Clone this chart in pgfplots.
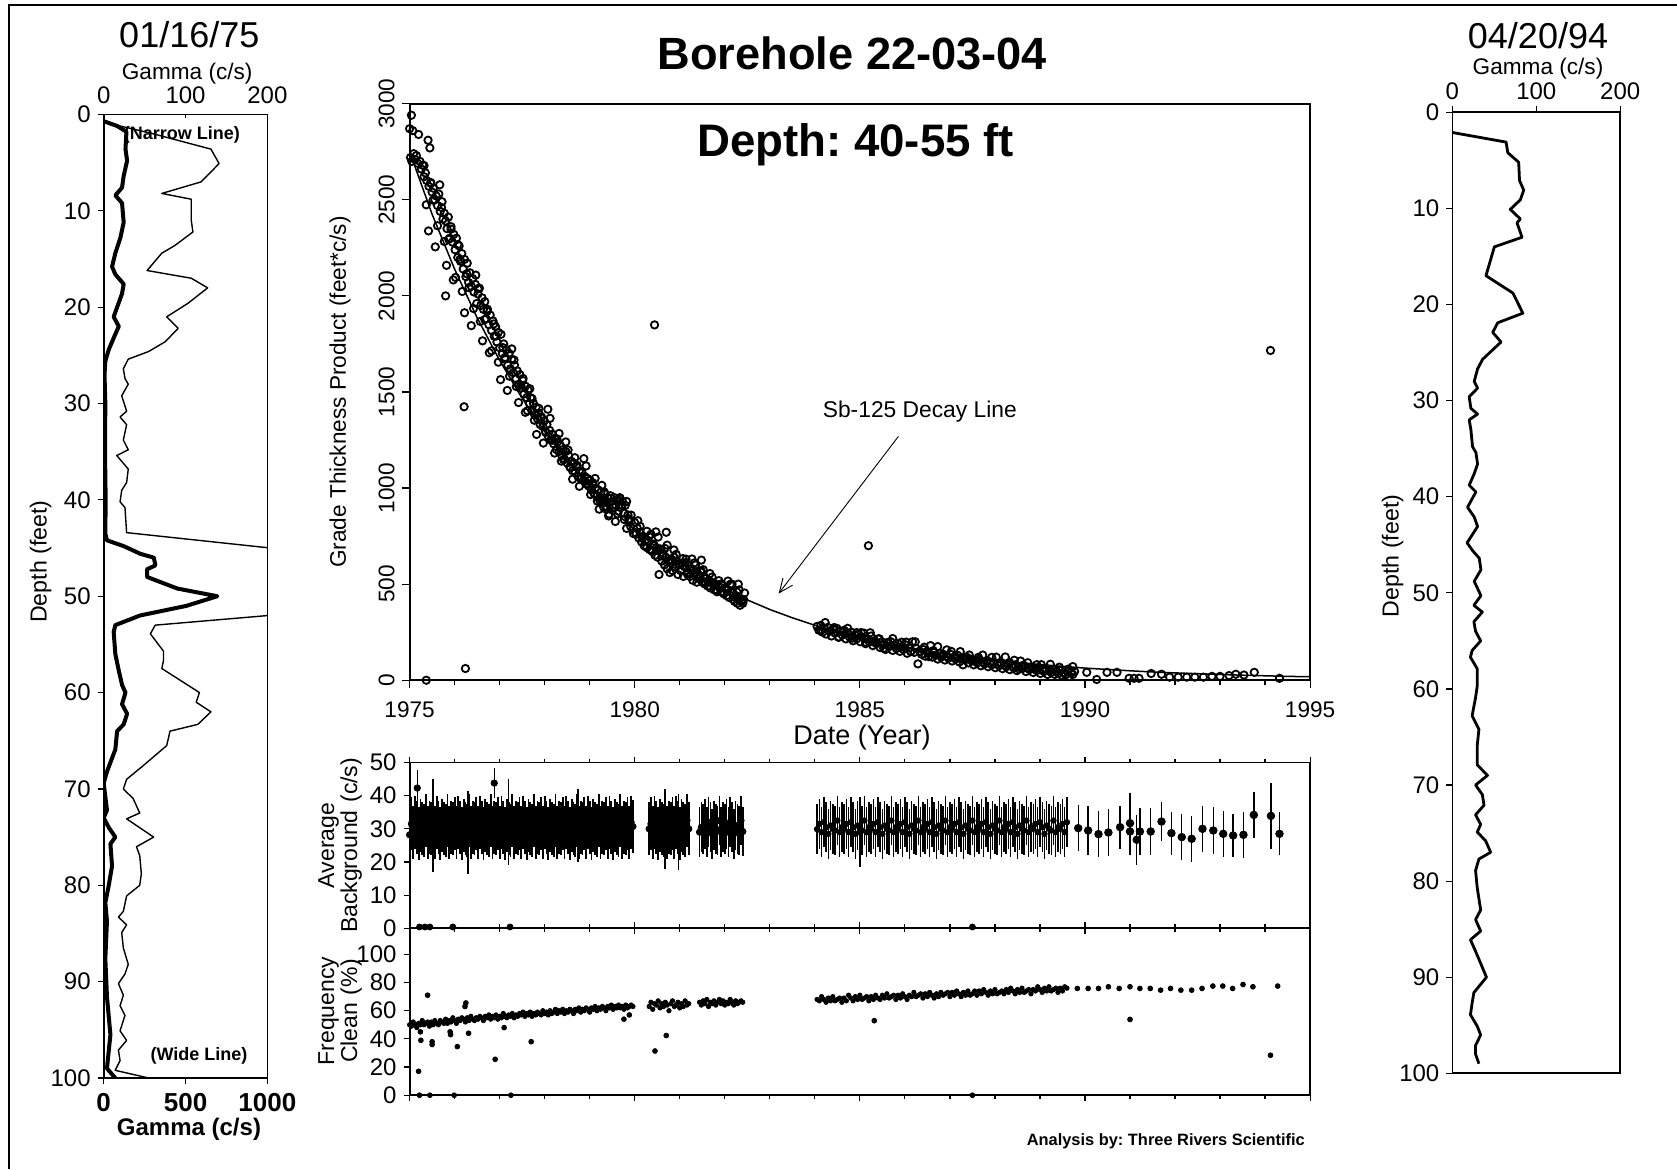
\documentclass[border=0pt]{standalone}
\usepackage{pgfplots}
\pgfplotsset{compat=1.18}
\usepackage{pgfplotstable}
\usetikzlibrary{arrows.meta}
\usepackage{fontspec}
\setmainfont{Liberation Sans}
\frenchspacing
\pgfplotsset{/pgf/number format/1000 sep={}, /pgf/number format/assume math mode=true}
\newcommand\fs[1]{\fontsize{#1}{#1}\selectfont}
\pgfplotsset{myax/.style={scale only axis, anchor=north west, axis line style={line width=0.9pt}, tick style={line width=0.6pt, black}, clip mode=individual, scaled ticks=false}}

\pgfplotstableread[row sep=\\]{
x bg fc\\
1975.00 28.2 50\\ 1975.04 31.5 49\\ 1975.08 29 52\\ 1975.12 32 50\\ 1975.16 30.5 48\\ 1975.20 28.5 51\\
1975.24 31 50\\ 1975.28 30 53\\ 1975.32 29.5 50\\ 1975.36 32.5 51\\ 1975.40 29 52\\ 1975.44 30.5 49\\
1975.48 30 52\\ 1975.52 31.5 50\\ 1975.56 29 53\\ 1975.60 32 51\\ 1975.64 30.5 50\\ 1975.68 28.5 53\\
1975.72 31 52\\ 1975.76 30 51\\ 1975.80 29.5 54\\ 1975.84 32.5 51\\ 1975.88 29 53\\ 1975.92 30.5 52\\
1975.96 30 55\\ 1976.00 31.5 53\\ 1976.04 29 51\\ 1976.08 32 54\\ 1976.12 30.5 53\\ 1976.16 28.5 55\\
1976.20 31 54\\ 1976.24 30 52\\ 1976.28 29.5 55\\ 1976.32 32.5 53\\ 1976.36 29 56\\ 1976.40 30.5 54\\
1976.44 30 53\\ 1976.48 31.5 55\\ 1976.52 29 54\\ 1976.56 32 56\\ 1976.60 30.5 55\\ 1976.64 28.5 53\\
1976.68 31 56\\ 1976.72 30 55\\ 1976.76 29.5 57\\ 1976.80 32.5 54\\ 1976.84 29 56\\ 1976.88 30.5 55\\
1976.92 30 57\\ 1976.96 31.5 54\\ 1977.00 29 56\\ 1977.04 32 55\\ 1977.08 30.5 58\\ 1977.12 28.5 56\\
1977.16 31 55\\ 1977.20 30 57\\ 1977.24 29.5 56\\ 1977.28 32.5 58\\ 1977.32 29 55\\ 1977.36 30.5 57\\
1977.40 30 56\\ 1977.44 31.5 58\\ 1977.48 29 57\\ 1977.52 32 59\\ 1977.56 30.5 56\\ 1977.60 28.5 58\\
1977.64 31 57\\ 1977.68 30 59\\ 1977.72 29.5 56\\ 1977.76 32.5 58\\ 1977.80 29 57\\ 1977.84 30.5 59\\
1977.88 30 58\\ 1977.92 31.5 57\\ 1977.96 29 60\\ 1978.00 32 58\\ 1978.04 30.5 59\\ 1978.08 28.5 57\\
1978.12 31 60\\ 1978.16 30 58\\ 1978.20 29.5 59\\ 1978.24 32.5 61\\ 1978.28 29 58\\ 1978.32 30.5 60\\
1978.36 30 59\\ 1978.40 31.5 61\\ 1978.44 29 58\\ 1978.48 32 60\\ 1978.52 30.5 59\\ 1978.56 28.5 61\\
1978.60 31 60\\ 1978.64 30 58\\ 1978.68 29.5 61\\ 1978.72 32.5 60\\ 1978.76 29 62\\ 1978.80 30.5 59\\
1978.84 30 61\\ 1978.88 31.5 60\\ 1978.92 29 62\\ 1978.96 32 61\\ 1979.00 30.5 59\\ 1979.04 28.5 62\\
1979.08 31 61\\ 1979.12 30 63\\ 1979.16 29.5 60\\ 1979.20 32.5 62\\ 1979.24 29 61\\ 1979.28 30.5 63\\
1979.32 30 62\\ 1979.36 31.5 60\\ 1979.40 29 63\\ 1979.44 32 62\\ 1979.48 30.5 64\\ 1979.52 28.5 61\\
1979.56 31 63\\ 1979.60 30 62\\ 1979.64 29.5 64\\ 1979.68 32.5 62\\ 1979.72 29 63\\ 1979.76 30.5 61\\
1979.80 30 64\\ 1979.84 31.5 62\\ 1979.88 29 63\\ 1979.92 32 64\\ 1979.96 30.7 63\\
}\segA

\pgfplotstableread[row sep=\\]{
x bg fc\\
1980.32 30 63\\ 1980.36 31.5 66\\ 1980.40 29 61\\ 1980.44 32 65\\ 1980.48 30.5 64\\ 1980.52 28.5 67\\
1980.56 31 62\\ 1980.60 30 65\\ 1980.64 29.5 63\\ 1980.68 32.5 66\\ 1980.72 29 64\\ 1980.76 30.5 60\\
1980.80 30 65\\ 1980.84 31.5 67\\ 1980.88 29 63\\ 1980.92 32 64\\ 1980.96 30.5 66\\ 1981.00 28.5 62\\
1981.04 31 65\\ 1981.08 30 63\\ 1981.12 29.5 67\\ 1981.16 32.5 64\\ 1981.20 30 65\\
}\segB

\pgfplotstableread[row sep=\\]{
x bg fc\\
1981.44 29 66\\ 1981.48 30.5 64\\ 1981.52 30 67\\ 1981.56 31.5 65\\ 1981.60 29 68\\ 1981.64 32 63\\
1981.68 30.5 66\\ 1981.72 28.5 65\\ 1981.76 31 67\\ 1981.80 30 64\\ 1981.84 29.5 66\\ 1981.88 32.5 68\\
1981.92 29 65\\ 1981.96 30.5 67\\ 1982.00 30 64\\ 1982.04 31.5 66\\ 1982.08 29 65\\ 1982.12 32 68\\
1982.16 30.5 66\\ 1982.20 28.5 64\\ 1982.24 31 67\\ 1982.28 30 65\\ 1982.32 29.5 66\\ 1982.36 32.5 67\\
1982.40 29.2 66\\
}\segC

\pgfplotstableread[row sep=\\]{
x bg fc\\
1984.05 29.9 68\\ 1984.10 31.5 67\\ 1984.15 29 70\\ 1984.20 32 68\\ 1984.25 30.5 66\\ 1984.30 28.5 69\\
1984.35 31 67\\ 1984.40 30 70\\ 1984.45 29.5 67\\ 1984.50 32.5 68\\ 1984.55 29 69\\ 1984.60 30.5 66\\
1984.65 30 69\\ 1984.70 31.5 67\\ 1984.75 29 71\\ 1984.80 32 69\\ 1984.85 30.5 67\\ 1984.90 28.5 70\\
1984.95 31 68\\ 1985.00 30 71\\ 1985.05 29.5 68\\ 1985.10 32.5 69\\ 1985.15 29 70\\ 1985.20 30.5 67\\
1985.25 30 70\\ 1985.30 31.5 68\\ 1985.35 29 71\\ 1985.40 32 69\\ 1985.45 30.5 68\\ 1985.50 28.5 71\\
1985.55 31 69\\ 1985.60 30 72\\ 1985.65 29.5 69\\ 1985.70 32.5 70\\ 1985.75 29 71\\ 1985.80 30.5 68\\
1985.85 30 71\\ 1985.90 31.5 69\\ 1985.95 29 72\\ 1986.00 32 70\\ 1986.05 30.5 68\\ 1986.10 28.5 71\\
1986.15 31 70\\ 1986.20 30 73\\ 1986.25 29.5 70\\ 1986.30 32.5 71\\ 1986.35 29 72\\ 1986.40 30.5 69\\
1986.45 30 72\\ 1986.50 31.5 70\\ 1986.55 29 73\\ 1986.60 32 71\\ 1986.65 30.5 69\\ 1986.70 28.5 72\\
1986.75 31 70\\ 1986.80 30 73\\ 1986.85 29.5 71\\ 1986.90 32.5 72\\ 1986.95 29 73\\ 1987.00 30.5 70\\
1987.05 30 73\\ 1987.10 31.5 71\\ 1987.15 29 74\\ 1987.20 32 72\\ 1987.25 30.5 70\\ 1987.30 28.5 73\\
1987.35 31 71\\ 1987.40 30 74\\ 1987.45 29.5 71\\ 1987.50 32.5 72\\ 1987.55 29 74\\ 1987.60 30.5 71\\
1987.65 30 74\\ 1987.70 31.5 72\\ 1987.75 29 75\\ 1987.80 32 73\\ 1987.85 30.5 71\\ 1987.90 28.5 74\\
1987.95 31 72\\ 1988.00 30 75\\ 1988.05 29.5 72\\ 1988.10 32.5 73\\ 1988.15 29 74\\ 1988.20 30.5 72\\
1988.25 30 75\\ 1988.30 31.5 73\\ 1988.35 29 76\\ 1988.40 32 74\\ 1988.45 30.5 72\\ 1988.50 28.5 75\\
1988.55 31 73\\ 1988.60 30 76\\ 1988.65 29.5 73\\ 1988.70 32.5 74\\ 1988.75 29 75\\ 1988.80 30.5 72\\
1988.85 30 75\\ 1988.90 31.5 74\\ 1988.95 29 77\\ 1989.00 32 75\\ 1989.05 30.5 73\\ 1989.10 28.5 76\\
1989.15 31 74\\ 1989.20 30 77\\ 1989.25 29.5 74\\ 1989.30 32.5 75\\ 1989.35 29 76\\ 1989.40 30.5 73\\
1989.45 30 76\\ 1989.50 31.5 74\\ 1989.55 29 77\\ 1989.60 32 76\\
}\segD

\begin{document}
\begin{tikzpicture}
\path[use as bounding box] (0pt,0pt) rectangle (838.5pt,-584.5pt);
\draw[line width=1pt] (4.3pt,-584.5pt) -- (4.3pt,-2.65pt) -- (838.5pt,-2.65pt);

% ================= LEFT LOG =================
\begin{axis}[myax, at={(51.85pt,-57.2pt)}, width=81.85pt, height=481.8pt,
  xmin=0, xmax=1000, ymin=0, ymax=100, y dir=reverse,
  xtick={0,500,1000}, ytick={0,10,...,100}, xtick pos=left, ytick pos=left,
  tick align=outside, major tick length=3pt,
  xticklabel style={font=\bfseries\fs{13}}, xticklabel shift=1.2pt,
  yticklabel style={font=\fs{12}}]
\addplot[line width=2pt, line join=round] coordinates {
(0,0.7) (82,1.2) (139,1.8) (133,3.6) (143,4.8) (122,6.4) (112,7.6) (71,8.4) (112,9.2) (122,11.2)
(102,12.8) (71,14.4) (51,15.8) (71,16.6) (122,17.6) (112,18.6) (82,20) (61,21) (92,22) (61,23.2)
(31,24.4) (10,25.6) (5,27) (10,30) (8,35) (12,40) (10,43.5) (20,44.2) (122,44.8) (224,45.6)
(306,46) (316,46.8) (265,47.2) (265,48) (449,49.2) (694,50) (505,51) (222,52) (71,53) (61,53.7)
(71,56) (92,57.7) (112,59.2) (133,60) (112,61.2) (143,62.2) (122,63.3) (82,64) (71,65.9) (20,68.2)
(0,69.4) (20,72.2) (0,73) (31,74) (71,75) (41,75.7) (51,78) (31,80) (10,81.8) (20,83.7)
(10,87.6) (20,91.6) (41,95.5) (20,99) (71,100)};
\end{axis}
\begin{axis}[myax, at={(51.85pt,-57.2pt)}, width=81.85pt, height=481.8pt,
  xmin=0, xmax=200, ymin=0, ymax=100, y dir=reverse,
  axis x line*=top, axis y line=none, xtick={0,100,200},
  tick align=inside, major tick length=2pt,
  xticklabel style={font=\fs{12}}, xticklabel shift=1.6pt]
\addplot[line width=0.7pt, line join=round] coordinates {
(0,0.8) (60,2.0) (131,3.6) (141,5.1) (119,7.0) (71,8.2) (107,8.8) (107,11) (109,12.2) (87,13.6)
(71,14.4) (53,16.2) (107,17) (127,18) (103,19.6) (77,21) (91,22.2) (75,23.6) (55,24.6) (30,25.4)
(24,26.4) (26,27.4) (30,28) (22,29.2) (28,30.8) (20,31.4) (28,32.2) (24,33.8) (30,34.8) (16,35.4)
(22,36) (30,36.8) (28,38.2) (22,39) (20,40.2) (26,40.8) (28,43.4) (215,45.1) (400,48.5) (215,51.9)
(63,53) (57,53.9) (73,55.7) (73,56.7) (71,57.5) (117,60) (113,61) (131,62) (115,63.3) (81,64)
(77,65.5) (48,67.6) (28,69) (24,70) (36,71) (44,72.5) (28,73.1) (61,75) (40,76) (44,76.9)
(46,78.8) (44,80) (28,81.1) (24,82.7) (18,83.3) (28,84.1) (22,84.9) (24,86.5) (30,88.2) (26,89.2)
(18,90.2) (24,91.4) (20,92.5) (26,93.5) (20,95.1) (28,96.1) (18,97.1) (20,98.2) (14,99.2) (55,100)};
\end{axis}
\node[font=\fs{18}] at (94.65pt,-17.2pt) {01/16/75};
\node[font=\fs{11.3}] at (93.6pt,-36.8pt) {Gamma (c/s)};
\node[font=\fs{11.6}, rotate=90] at (20.3pt,-280.75pt) {Depth (feet)};
\node[font=\bfseries\fs{12}] at (94.5pt,-564.5pt) {Gamma (c/s)};
\node[font=\bfseries\fs{9}] at (90.9pt,-67.4pt) {(Narrow Line)};
\node[font=\bfseries\fs{9}] at (99.5pt,-527.8pt) {(Wide Line)};

% ================= CENTER TOP =================
\begin{axis}[myax, at={(204.8pt,-51.85pt)}, width=450.25pt, height=288.25pt,
  xmin=1975, xmax=1995, ymin=0, ymax=3000,
  xtick={1975,1980,...,1995}, minor x tick num=4,
  ytick={0,500,...,3000}, xtick pos=left, ytick pos=left,
  tick align=outside, major tick length=4pt, minor tick length=2.5pt,
  xticklabel style={font=\fs{11.3}}, xticklabel shift=3pt,
  yticklabel style={font=\fs{11.3}, rotate=90, anchor=south}]
\addplot[line width=0.75pt] coordinates {
(1975.0,2750) (1975.5,2425) (1976.0,2139) (1976.5,1886) (1977.0,1664) (1977.5,1467) (1978.0,1294)
(1978.5,1141) (1979.0,1006) (1979.5,887) (1980.0,783) (1980.5,690) (1981.0,609) (1981.5,537)
(1982.0,473) (1982.5,418) (1983.0,368) (1983.5,325) (1984.0,286) (1984.5,253) (1985.0,223)
(1985.5,196) (1986.0,173) (1986.5,153) (1987.0,135) (1987.5,119) (1988.0,105) (1988.5,92)
(1989.0,82) (1989.5,72) (1990.0,63) (1990.5,56) (1991.0,49) (1991.5,43) (1992.0,38) (1992.5,34)
(1993.0,30) (1993.5,26) (1994.0,23) (1994.5,20) (1995.0,18)};
\addplot[only marks, mark=o, mark size=1.85pt, mark options={line width=0.9pt}] coordinates {
(1975.00,2870) (1975.02,2720) (1975.04,2940) (1975.05,2700) (1975.07,2860) (1975.09,2740) (1975.12,2710)
(1975.15,2730) (1975.18,2690) (1975.20,2840) (1975.23,2700) (1975.26,2660) (1975.29,2680) (1975.32,2620)
(1975.35,2640) (1975.38,2600) (1975.41,2810) (1975.43,2570) (1975.45,2770) (1975.47,2590) (1975.50,2540)
(1975.53,2560) (1975.56,2500) (1975.59,2520) (1975.62,2470) (1975.65,2530) (1975.68,2440) (1975.71,2460)
(1975.74,2400) (1975.77,2430) (1975.80,2390) (1975.83,2350) (1975.86,2410) (1975.89,2300) (1975.92,2360)
(1975.95,2280) (1975.98,2320) (1976.01,2240) (1976.04,2300) (1976.07,2200) (1976.10,2260) (1976.13,2180)
(1976.16,2220) (1976.19,2140) (1976.22,2190) (1976.25,2100) (1976.28,2170) (1976.31,2070) (1976.34,2120)
(1976.37,2050) (1976.40,2090) (1976.43,2020) (1976.46,2060) (1976.49,1960) (1976.52,2010) (1976.55,2040)
(1976.58,1950) (1976.61,1990) (1976.64,1930) (1976.67,1970) (1976.70,1880) (1976.73,1930) (1976.76,1850)
(1976.79,1900) (1976.82,1820) (1976.85,1870) (1976.88,1790) (1976.91,1840) (1976.94,1760) (1976.97,1810)
(1977.00,1730) (1977.03,1800) (1977.06,1700) (1977.09,1750) (1977.12,1680) (1977.15,1720) (1977.18,1640)
(1977.21,1700) (1977.24,1620) (1977.27,1670) (1977.30,1600) (1977.33,1640) (1977.36,1570) (1977.39,1610)
(1977.42,1540) (1977.45,1590) (1977.48,1520) (1977.51,1560) (1977.54,1490) (1977.57,1530) (1977.60,1470)
(1977.63,1510) (1977.66,1440) (1977.69,1470) (1977.72,1400) (1977.75,1440) (1977.78,1380) (1977.81,1420)
(1977.84,1360) (1977.87,1390) (1977.90,1330) (1977.93,1370) (1977.96,1320) (1977.99,1350) (1978.02,1290)
(1978.05,1330) (1978.08,1270) (1978.11,1300) (1978.14,1250) (1978.17,1280) (1978.20,1230) (1978.23,1260)
(1978.26,1200) (1978.29,1240) (1978.32,1190) (1978.35,1220) (1978.38,1170) (1978.41,1200) (1978.44,1150)
(1978.47,1190) (1978.50,1130) (1978.53,1170) (1978.56,1110) (1978.59,1140) (1978.62,1090) (1978.65,1130)
(1978.68,1080) (1978.71,1110) (1978.74,1060) (1978.77,1090) (1978.80,1050) (1978.83,1080) (1978.86,1040)
(1978.89,1060) (1978.92,1020) (1978.95,1050) (1978.98,1010) (1979.01,1040) (1979.04,990) (1979.07,1020)
(1979.10,970) (1979.13,1000) (1979.16,960) (1979.19,990) (1979.21,890) (1979.22,950) (1979.25,980)
(1979.28,940) (1979.31,900) (1979.34,970) (1979.37,890) (1979.40,950) (1979.43,865) (1979.46,960)
(1979.49,930) (1979.52,900) (1979.55,950) (1979.58,910) (1979.61,940) (1979.64,880) (1979.67,950)
(1979.70,900) (1979.73,930) (1979.76,870) (1979.79,910) (1979.82,930) (1979.85,860) (1979.88,830)
(1979.91,800) (1980.00,820) (1980.03,760) (1980.06,790) (1980.09,740) (1980.12,770) (1980.15,720)
(1980.18,750) (1980.21,700) (1980.24,730) (1980.27,690) (1980.30,720) (1980.33,680) (1980.36,760)
(1980.39,670) (1980.42,700) (1980.45,650) (1980.48,690) (1980.51,640) (1980.54,550) (1980.57,680)
(1980.60,620) (1980.63,660) (1980.66,600) (1980.69,640) (1980.70,770) (1980.72,580) (1980.75,620)
(1980.78,560) (1980.81,610) (1980.84,570) (1980.87,640) (1980.90,590) (1980.93,620) (1980.96,550)
(1980.99,600) (1981.02,570) (1981.05,610) (1981.08,540) (1981.11,590) (1981.14,630) (1981.17,560)
(1981.20,600) (1981.23,540) (1981.26,580) (1981.29,520) (1981.32,560) (1981.35,600) (1981.38,510)
(1981.41,550) (1981.44,530) (1981.47,570) (1981.48,625) (1981.50,510) (1981.53,540) (1981.56,500)
(1981.59,530) (1981.62,490) (1981.65,520) (1981.68,480) (1981.71,510) (1981.74,500) (1981.77,470)
(1981.80,500) (1981.83,460) (1981.86,490) (1981.89,480) (1981.92,500) (1981.95,460) (1981.98,450)
(1982.01,480) (1982.04,440) (1982.07,470) (1982.10,430) (1982.13,460) (1982.16,500) (1982.19,420)
(1982.22,410) (1982.25,440) (1982.28,400) (1982.30,500) (1982.31,420) (1982.34,390) (1982.37,410)
(1982.40,400)
(1975.32,2678) (1975.37,2474) (1975.42,2338) (1975.47,2586) (1975.52,2498) (1975.57,2255) (1975.62,2365)
(1975.67,2578) (1975.72,2490) (1975.77,2283) (1975.82,2159) (1975.87,2294) (1975.92,2347) (1975.97,2083)
(1976.02,2096) (1976.07,2267) (1976.12,2190) (1976.17,2023) (1976.22,1912) (1976.27,2115) (1976.32,2043)
(1976.37,1845) (1976.42,1934) (1976.47,2108) (1976.52,2037) (1976.57,1867) (1976.62,1766) (1976.67,1877)
(1976.72,1920) (1976.77,1704) (1976.82,1714) (1976.87,1854) (1976.92,1791) (1976.97,1655) (1977.02,1564)
(1977.07,1731) (1977.12,1671) (1977.17,1508) (1977.22,1582) (1977.27,1724) (1977.32,1666) (1977.37,1528)
(1977.42,1445) (1977.47,1535) (1977.52,1570) (1977.57,1394) (1977.62,1402) (1977.67,1517) (1977.72,1465)
(1977.77,1353) (1977.82,1279) (1977.87,1415) (1977.92,1367) (1977.97,1234) (1978.02,1294) (1978.07,1410)
(1978.12,1363) (1978.17,1249) (1978.22,1182) (1978.27,1256) (1978.32,1284) (1978.37,1140) (1978.42,1147)
(1978.47,1240) (1978.52,1198) (1978.57,1107) (1978.62,1046) (1978.67,1158) (1978.72,1118) (1978.77,1009)
(1978.82,1058) (1978.87,1153) (1978.92,1115) (1978.97,1022) (1979.02,966) (1979.07,1027) (1979.12,1050)
(1979.17,932) (1979.22,938) (1979.27,1014) (1979.32,980) (1979.37,905) (1979.42,855) (1979.47,947)
(1979.52,914) (1979.57,826) (1979.62,866) (1979.67,944) (1979.72,912) (1979.77,836) (1979.82,790)
(1979.87,840) (1979.92,859) (1979.97,763) (1980.02,767) (1980.07,830) (1980.12,801) (1980.17,740)
(1980.22,700) (1980.27,775) (1980.32,748) (1980.37,675) (1980.42,708) (1980.47,772) (1980.52,745)
(1980.57,683) (1980.62,646) (1980.67,686) (1980.72,703) (1980.77,624) (1980.82,627) (1980.87,678)
(1980.92,655) (1980.97,605) (1981.02,572) (1981.07,633) (1981.12,612) (1981.17,552) (1981.22,579)
(1981.27,631) (1981.32,610) (1981.37,559) (1981.42,529) (1981.47,562) (1981.52,575) (1981.57,510)
(1981.62,514) (1981.67,555) (1981.72,537) (1981.77,496) (1981.82,468) (1981.87,518) (1981.92,501)
(1981.97,452) (1982.02,474) (1982.07,516) (1982.12,499) (1982.17,457) (1982.22,432) (1982.27,459)
(1982.32,470) (1982.37,417) (1982.42,419) (1982.44,454)
(1984.05,280) (1984.09,260) (1984.13,285) (1984.17,250) (1984.21,270) (1984.25,240) (1984.29,275)
(1984.33,255) (1984.37,230) (1984.41,265) (1984.45,245) (1984.49,270) (1984.53,225) (1984.57,255)
(1984.61,235) (1984.65,260) (1984.69,215) (1984.73,245) (1984.77,225) (1984.81,250) (1984.85,205)
(1984.89,235) (1984.93,215) (1984.97,240) (1985.01,200) (1985.05,225) (1985.09,245) (1985.13,190)
(1985.17,215) (1985.21,200) (1985.25,230) (1985.29,180) (1985.33,205) (1985.37,190) (1985.41,215)
(1985.45,170) (1985.49,200) (1985.53,185) (1985.57,160) (1985.61,195) (1985.65,175) (1985.69,200)
(1985.73,155) (1985.77,180) (1985.81,165) (1985.85,190) (1985.89,150) (1985.93,175) (1985.97,160)
(1986.01,185) (1986.05,140) (1986.09,170) (1986.13,150) (1986.17,200) (1986.21,145) (1986.25,165)
(1986.29,85) (1986.33,150) (1986.37,135) (1986.41,160) (1986.45,125) (1986.49,150) (1986.53,140)
(1986.57,180) (1986.61,120) (1986.65,145) (1986.69,130) (1986.73,110) (1986.77,140) (1986.81,120)
(1986.85,135) (1986.89,105) (1986.93,125) (1986.97,115) (1987.01,135) (1987.05,100) (1987.09,120)
(1987.13,110) (1987.17,130) (1987.21,95) (1987.25,115) (1987.29,80) (1987.33,105) (1987.37,120)
(1987.41,90) (1987.45,110) (1987.49,100) (1987.53,80) (1987.57,105) (1987.61,90) (1987.65,110)
(1987.69,75) (1987.73,95) (1987.77,85) (1987.81,100) (1987.85,70) (1987.89,90) (1987.93,80)
(1987.97,95) (1988.01,65) (1988.05,85) (1988.09,75) (1988.13,90) (1988.17,60) (1988.21,80)
(1988.25,70) (1988.29,85) (1988.33,55) (1988.37,75) (1988.41,65) (1988.45,80) (1988.49,50)
(1988.53,70) (1988.57,100) (1988.61,60) (1988.65,75) (1988.69,45) (1988.73,65) (1988.77,55)
(1988.81,70) (1988.85,40) (1988.89,60) (1988.93,50) (1988.97,65) (1989.01,35) (1989.05,55)
(1989.09,45) (1989.13,60) (1989.17,30) (1989.21,50) (1989.25,40) (1989.29,55) (1989.33,30)
(1989.37,45) (1989.41,35) (1989.45,50) (1989.49,25) (1989.53,40) (1989.57,30) (1989.61,45)
(1989.65,20) (1989.69,40) (1989.73,30) (1989.77,45)
(1984.13,259) (1984.23,300) (1984.33,256) (1984.43,274) (1984.53,223) (1984.63,251) (1984.73,270)
(1984.83,219) (1984.93,248) (1985.03,248) (1985.13,197) (1985.23,247) (1985.33,197) (1985.43,216)
(1985.53,166) (1985.63,197) (1985.73,217) (1985.83,167) (1985.93,198) (1986.03,198) (1986.13,149)
(1986.23,200) (1986.33,151) (1986.43,172) (1986.53,123) (1986.63,154) (1986.73,175) (1986.83,127)
(1986.93,158) (1987.03,150) (1987.13,119) (1987.23,149) (1987.33,119) (1987.43,131) (1987.53,101)
(1987.63,119) (1987.73,131) (1987.83,101) (1987.93,119) (1988.03,120) (1988.13,90) (1988.23,121)
(1988.33,91) (1988.43,104) (1988.53,59) (1988.63,78) (1988.73,91) (1988.83,62) (1988.93,81)
(1989.03,81) (1989.13,52) (1989.23,83) (1989.33,55) (1989.43,68) (1989.53,39) (1989.63,58) (1989.73,71)
(1990.04,41) (1990.26,4) (1990.49,41) (1990.71,41) (1990.98,10) (1991.09,10) (1991.20,10)
(1991.47,35) (1991.70,31) (1991.88,16) (1992.07,16) (1992.26,16) (1992.44,16) (1992.63,16)
(1992.82,20) (1993.00,20) (1993.20,24) (1993.35,31) (1993.53,27) (1993.76,41) (1994.32,10)
(1975.37,0) (1975.80,2000) (1976.21,1423) (1976.24,61) (1980.44,1849) (1985.19,700) (1994.12,1716)};
\end{axis}
\node[font=\bfseries\fs{22.6}] at (426.2pt,-26.75pt) {Borehole 22-03-04};
\node[font=\bfseries\fs{22.8}] at (427.8pt,-72.2pt) {Depth: 40-55 ft};
\node[font=\fs{11.4}] at (459.9pt,-205.9pt) {Sb-125 Decay Line};
\draw[line width=0.45pt, -{Straight Barb[length=7pt,width=6pt]}] (449.2pt,-218.2pt) -- (389.3pt,-296.8pt);
\node[font=\fs{11.3}, rotate=90] at (170pt,-196pt) {Grade Thickness Product (feet*c/s)};
\node[font=\fs{13.5}] at (431pt,-368.8pt) {Date (Year)};

% ================= CENTER MIDDLE =================
\begin{axis}[myax, at={(204.8pt,-381.25pt)}, width=450.25pt, height=82.9pt,
  xmin=1975, xmax=1995, ymin=0, ymax=50,
  xtick={1975,1980,...,1995}, minor x tick num=4, xticklabels={},
  ytick={0,10,...,50}, ytick pos=left, xtick pos=both,
  tick align=outside, major tick length=3pt, minor tick length=2pt,
  yticklabel style={font=\fs{12}}]
\addplot[only marks, mark=*, mark size=1.6pt, error bars/.cd, y dir=both, y fixed=8,
  error bar style={line width=0.9pt}, error mark=none] table[x=x, y=bg] {\segA};
\addplot[only marks, mark=*, mark size=1.6pt, error bars/.cd, y dir=both, y fixed=8,
  error bar style={line width=0.9pt}, error mark=none] table[x=x, y=bg] {\segB};
\addplot[only marks, mark=*, mark size=1.6pt, error bars/.cd, y dir=both, y fixed=7.5,
  error bar style={line width=0.8pt}, error mark=none] table[x=x, y=bg] {\segC};
\addplot[only marks, mark=*, mark size=1.4pt, error bars/.cd, y dir=both, y fixed=7.5,
  error bar style={line width=0.7pt}, error mark=none] table[x=x, y=bg] {\segD};
\addplot[only marks, mark=*, mark size=1.6pt, error bars/.cd, y dir=both, y explicit,
  error bar style={line width=0.7pt}, error mark=none] coordinates {
(1975.17,42.3) +- (0,5.5) (1976.88,43.8) +- (0,4.5) (1975.52,31) +- (0,14) (1976.30,29) +- (0,12.5)
(1977.20,32) +- (0,13) (1978.74,31) +- (0,11) (1980.67,30) +- (0,12) (1980.97,29) +- (0,11.5)
(1985.00,29) +- (0,10.5)};
\addplot[only marks, mark=*, mark size=1.9pt, error bars/.cd, y dir=both, y explicit,
  error bar style={line width=0.7pt}, error mark=none] coordinates {
(1989.85,30.2) +- (0,7) (1990.07,29.5) +- (0,7.3) (1990.30,28.4) +- (0,7) (1990.52,28.9) +- (0,7)
(1990.78,30.5) +- (0,6.5) (1991.00,31.7) +- (0,9) (1991.00,29.2) +- (0,7) (1991.15,26.7) +- (0,7.5)
(1991.22,29.2) +- (0,7) (1991.46,29.2) +- (0,7) (1991.70,32.2) +- (0,6) (1991.92,28.7) +- (0,6.5)
(1992.15,27.5) +- (0,7) (1992.37,27.0) +- (0,7) (1992.61,30.0) +- (0,7) (1992.85,29.5) +- (0,7)
(1993.07,28.5) +- (0,7) (1993.29,28.0) +- (0,6.5) (1993.52,28.2) +- (0,7) (1993.75,34.2) +- (0,7)
(1994.13,33.9) +- (0,10) (1994.32,28.5) +- (0,6.5)};
\addplot[only marks, mark=*, mark size=1.5pt] coordinates {
(1975.22,0.4) (1975.34,0.4) (1975.45,0.4) (1975.96,0.4) (1977.23,0.4) (1987.50,0.4)};
\end{axis}

% ================= CENTER BOTTOM =================
\begin{axis}[myax, at={(204.8pt,-464.15pt)}, width=450.25pt, height=83.45pt,
  xmin=1975, xmax=1995, ymin=0, ymax=118.5,
  xtick={1975,1980,...,1995}, minor x tick num=4, xticklabels={},
  ytick={0,20,...,100}, ytick pos=left, xtick pos=both,
  tick align=outside, major tick length=3pt, minor tick length=2pt,
  yticklabel style={font=\fs{12}}]
\addplot[only marks, mark=*, mark size=1.1pt] table[x=x, y=fc] {\segA};
\addplot[only marks, mark=*, mark size=1.1pt] table[x=x, y=fc] {\segB};
\addplot[only marks, mark=*, mark size=1.1pt] table[x=x, y=fc] {\segC};
\addplot[only marks, mark=*, mark size=1.1pt] table[x=x, y=fc] {\segD};
\addplot[only marks, mark=*, mark size=1.2pt] coordinates {
(1975.20,17) (1975.25,39) (1975.24,45) (1975.40,71) (1975.50,36) (1975.50,38) (1975.91,43) (1975.90,45)
(1976.06,34.5) (1976.23,63) (1976.25,65.5) (1976.31,44) (1976.90,25.5) (1977.10,48) (1977.70,38)
(1979.76,54) (1979.88,57) (1980.45,31.4) (1980.70,42.4) (1985.32,52.9) (1991.00,53.8) (1994.12,28.4)
(1975.22,0) (1975.45,0) (1975.99,0) (1977.25,0) (1987.50,0)
(1989.83,75.8) (1990.07,75.8) (1990.30,75.8) (1990.52,77) (1990.76,75.8) (1991.00,77) (1991.22,75.8)
(1991.45,75.8) (1991.68,74.6) (1991.90,75.8) (1992.13,74.6) (1992.37,74.6) (1992.60,75.8) (1992.84,77.5)
(1993.06,77.5) (1993.28,75.8) (1993.51,78.6) (1993.73,77) (1994.28,77.5)};
\end{axis}
\node[font=\fs{11.5}, rotate=90, align=center, text width=100pt] at (170pt,-422.7pt) {\fs{11.5}\baselineskip=13.5pt Average\\Background (c/s)};
\node[font=\fs{11.5}, rotate=90, align=center, text width=100pt] at (170pt,-505.5pt) {\fs{11.5}\baselineskip=13.5pt Frequency\\Clean (\%)};
\node[font=\bfseries\fs{8.2}] at (582.9pt,-570.6pt) {Analysis by: Three Rivers Scientific};

% ================= RIGHT LOG =================
\begin{axis}[myax, at={(726.2pt,-56.15pt)}, width=83.9pt, height=480.5pt,
  xmin=0, xmax=200, ymin=0, ymax=100, y dir=reverse,
  xtick={0,100,200}, ytick={0,10,...,100}, xtick pos=right, xticklabel pos=right, ytick pos=left,
  tick align=outside, major tick length=3pt,
  xticklabel style={font=\fs{12}},
  yticklabel style={font=\fs{12}}]
\addplot[line width=1.4pt, line join=round] coordinates {
(0,2.1) (64,3.1) (66,4.2) (79,5.2) (80,7.1) (85,8.1) (81,9.1) (69,10.1) (81,11.1) (77,11.5)
(83,13) (50,14) (40,17) (72,18.8) (84,20.9) (54,21.9) (48,22.9) (58,23.9) (36,25.7) (30,26.7)
(26,28) (30,28.7) (20,29.6) (22,30.8) (30,31.4) (20,32) (22,33) (24,34.8) (28,35.4) (30,36.6)
(26,37.6) (20,38.8) (28,39.5) (18,41.1) (26,42.1) (30,43.1) (17.5,44.8) (24,45.6) (32,46.4) (34,47.6)
(26,48.8) (34,50.3) (25.6,51.3) (35.7,52) (25.6,53) (27.6,54) (33.7,55) (23.5,56) (21.5,56.7) (29.6,57.9)
(29.6,59.7) (27.6,60.9) (23.5,62.8) (31.6,64.2) (29.6,65.9) (29.6,67.9) (41.8,69) (27.6,70) (35.7,71) (37.7,72.1)
(27.6,73.1) (33.7,74.1) (29.6,74.9) (39.6,75.8) (45.6,77) (31.6,77.7) (27.6,78.9) (29.6,80.7) (33.7,83) (27.6,84)
(33.7,85.2) (21.5,86.1) (27.6,87.3) (40.6,90) (25.6,91.6) (23.5,92.7) (21.5,93.9) (29.6,95.1) (33.7,96) (27.6,97.1)
(27.6,98) (31.6,99)};
\end{axis}
\node[font=\fs{18}] at (769pt,-17.8pt) {04/20/94};
\node[font=\fs{11.3}] at (769pt,-34.4pt) {Gamma (c/s)};
\node[font=\fs{11.6}, rotate=90] at (696.25pt,-278pt) {Depth (feet)};
\end{tikzpicture}
\end{document}
